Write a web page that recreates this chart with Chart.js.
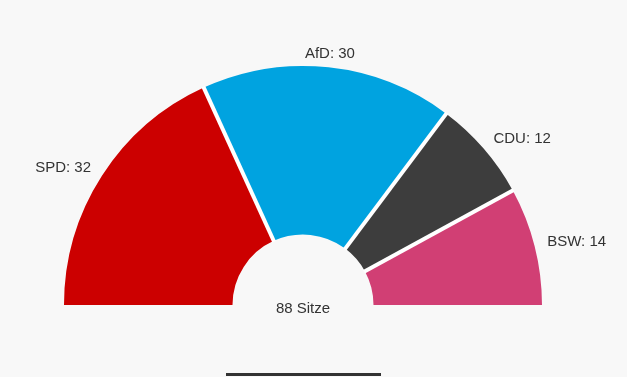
<!DOCTYPE html>
<html>
<head>
<meta charset="utf-8">
<script src="https://cdn.jsdelivr.net/npm/chart.js@4/dist/chart.umd.min.js"></script>
<style>
  html, body { margin: 0; padding: 0; background: #f8f8f8; }
  #wrap { position: relative; width: 627px; height: 377px; }
  #bar { position: absolute; left: 226px; top: 373px; width: 155px; height: 3px; background: #333; }
</style>
</head>
<body>
<div id="wrap">
  <canvas id="seatChart"></canvas>
  <div id="bar"></div>
</div>
<script>
// Sitzverteilung
const parties = ['SPD', 'AfD', 'CDU', 'BSW'];
const seats = [32, 30, 12, 14];
const partyColors = ['#cc0000', '#00a3e0', '#3d3d3d', '#d13f74'];
const seatLabel = 'Sitze';

const totalSeats = seats.reduce((a, b) => a + b, 0);

// white separators between neighbouring parties
const separators = {
  id: 'separators',
  afterDatasetsDraw(chart) {
    const ctx = chart.ctx;
    const arcs = chart.getDatasetMeta(0).data;
    ctx.save();
    ctx.strokeStyle = '#ffffff';
    ctx.lineWidth = 4;
    for (let i = 1; i < arcs.length; i++) {
      const a = arcs[i];
      const c = Math.cos(a.startAngle), s = Math.sin(a.startAngle);
      ctx.beginPath();
      ctx.moveTo(a.x + (a.innerRadius - 1) * c, a.y + (a.innerRadius - 1) * s);
      ctx.lineTo(a.x + (a.outerRadius + 1) * c, a.y + (a.outerRadius + 1) * s);
      ctx.stroke();
    }
    ctx.restore();
  }
};

// labels outside the arcs + total in the middle
const seatLabels = {
  id: 'seatLabels',
  afterDatasetsDraw(chart) {
    const ctx = chart.ctx;
    const arcs = chart.getDatasetMeta(0).data;
    ctx.save();
    ctx.font = '15px "Liberation Sans", Arial, sans-serif';
    ctx.fillStyle = '#333';
    ctx.textBaseline = 'middle';
    arcs.forEach((arc, i) => {
      const p = arc.getProps(['x', 'y', 'startAngle', 'endAngle', 'outerRadius'], true);
      const mid = (p.startAngle + p.endAngle) / 2;
      const r = p.outerRadius + 13;
      const c = Math.cos(mid);
      ctx.textAlign = c < -0.3 ? 'right' : (c > 0.3 ? 'left' : 'center');
      ctx.fillText(parties[i] + ': ' + seats[i], p.x + r * c, p.y + r * Math.sin(mid) - 1);
    });
    const first = arcs[0];
    ctx.textAlign = 'center';
    ctx.fillText(totalSeats + ' ' + seatLabel, first.x, first.y + 4);
    ctx.restore();
  }
};

new Chart(document.getElementById('seatChart'), {
  type: 'doughnut',
  data: {
    labels: parties,
    datasets: [{
      data: seats,
      backgroundColor: partyColors,
      borderWidth: 0
    }]
  },
  options: {
    responsive: true,
    maintainAspectRatio: false,
    animation: false,
    rotation: -90,
    circumference: 180,
    cutout: '29.5%',
    layout: { padding: { left: 64, right: 85, top: 66, bottom: 72 } },
    plugins: {
      legend: { display: false },
      tooltip: { enabled: false }
    }
  },
  plugins: [separators, seatLabels]
});
</script>
</body>
</html>
